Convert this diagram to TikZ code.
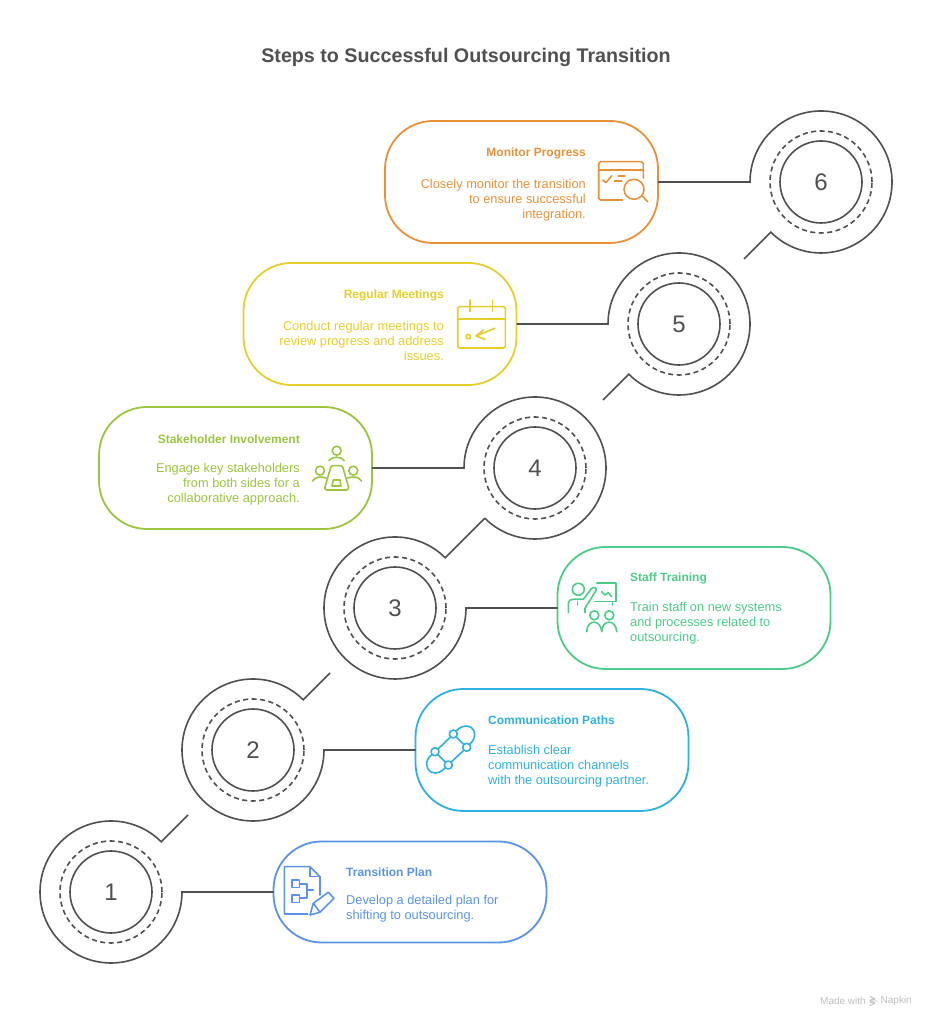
\documentclass[tikz,border=0pt]{standalone}
\usepackage{fontspec}
\setmainfont{Liberation Sans}
\definecolor{inkgrey}{HTML}{505050}
\definecolor{planblue}{HTML}{5B93EA}
\definecolor{pathblue}{HTML}{2EB0E3}
\definecolor{trainteal}{HTML}{4CCB8B}
\definecolor{stakegreen}{HTML}{9BC53F}
\definecolor{meetyellow}{HTML}{E6CF2A}
\definecolor{monorange}{HTML}{E8913A}
\tikzset{
  core/.style={draw=inkgrey, line width=1.6pt, circle, minimum size=82pt, inner sep=0pt, outer sep=0pt, text=inkgrey, font=\fontsize{24}{28}\selectfont},
  dashring/.style={draw=inkgrey, line width=1.6pt, circle, dashed, dash pattern=on 5pt off 3.5pt, minimum size=102pt, inner sep=0pt, outer sep=0pt},
  outerring/.style={circle, minimum size=142pt, inner sep=0pt, outer sep=0pt},
  link/.style={draw=inkgrey, line width=1.6pt, line join=miter},
  stepbox/.style={draw=#1, line width=1.8pt, rounded corners=48pt, minimum width=273pt, minimum height=122pt, inner sep=0pt, outer sep=0pt},
  boxtitle/.style={text=#1, inner sep=0pt, font=\fontsize{12}{15}\selectfont\bfseries},
  boxbody/.style={text=#1, inner sep=0pt, font=\fontsize{12.8}{15}\selectfont},
  icon/.style={draw=#1, line width=1.6pt, line join=round, line cap=round},
}
\begin{document}
\begin{tikzpicture}[x=1pt, y=1pt]
\useasboundingbox (0,0) rectangle (932,1024);
\node [text=inkgrey, inner sep=0pt, font=\fontsize{19.7}{24}\selectfont\bfseries] (title) at (466, 967) {Steps to Successful Outsourcing Transition};
\node [stepbox=planblue, minimum height=101pt] (box1) at (410, 132) {};
\node [stepbox=pathblue] (box2) at (552, 274) {};
\node [stepbox=trainteal] (box3) at (694, 416) {};
\node [stepbox=stakegreen] (box4) at (235.5, 556) {};
\node [stepbox=meetyellow] (box5) at (380, 700) {};
\node [stepbox=monorange] (box6) at (521.5, 842) {};
\node [core] (core1) at (111, 132) {1};
\node [core] (core2) at (253, 274) {2};
\node [core] (core3) at (395, 416) {3};
\node [core] (core4) at (535, 556) {4};
\node [core] (core5) at (679, 700) {5};
\node [core] (core6) at (821, 842) {6};
\node [dashring] (dash1) at (core1) {};
\node [dashring] (dash2) at (core2) {};
\node [dashring] (dash3) at (core3) {};
\node [dashring] (dash4) at (core4) {};
\node [dashring] (dash5) at (core5) {};
\node [dashring] (dash6) at (core6) {};
\node [outerring] (ring1) at (core1) {};
\node [outerring] (ring2) at (core2) {};
\node [outerring] (ring3) at (core3) {};
\node [outerring] (ring4) at (core4) {};
\node [outerring] (ring5) at (core5) {};
\node [outerring] (ring6) at (core6) {};
\coordinate (tail1) at (188, 209);
\coordinate (tail2) at (330, 351);
\coordinate (tail5) at (603, 624);
\coordinate (tail6) at (744, 765);
\draw [link] (box1.west) -- (ring1.east) arc [start angle=0, end angle=-315, radius=71pt] -- (tail1);
\draw [link] (box2.west) -- (ring2.east) arc [start angle=0, end angle=-315, radius=71pt] -- (tail2);
\draw [link] (box3.west) -- (ring3.east) arc [start angle=0, end angle=-315, radius=71pt] -- (ring4.225);
\draw [link] (box4.east) -- (ring4.west) arc [start angle=180, end angle=-135, radius=71pt];
\draw [link] (box5.east) -- (ring5.west) arc [start angle=180, end angle=-135, radius=71pt] -- (tail5);
\draw [link] (box6.east) -- (ring6.west) arc [start angle=180, end angle=-135, radius=71pt] -- (tail6);
\node [boxtitle=planblue, anchor=west] (title1) at (346, 152) {Transition Plan};
\node [boxbody=planblue, anchor=west, align=left] (body1) at (346, 115.5) {Develop a detailed plan for\\shifting to outsourcing.};
\node [boxtitle=pathblue, anchor=west] (title2) at (488, 304) {Communication Paths};
\node [boxbody=pathblue, anchor=west, align=left] (body2) at (488, 258) {Establish clear\\communication channels\\with the outsourcing partner.};
\node [boxtitle=trainteal, anchor=west] (title3) at (630, 446) {Staff Training};
\node [boxbody=trainteal, anchor=west, align=left] (body3) at (630, 400.5) {Train staff on new systems\\and processes related to\\outsourcing.};
\node [boxtitle=stakegreen, anchor=east] (title4) at (300, 585) {Stakeholder Involvement};
\node [boxbody=stakegreen, anchor=east, align=right] (body4) at (300, 539.5) {Engage key stakeholders\\from both sides for a\\collaborative approach.};
\node [boxtitle=meetyellow, anchor=east] (title5) at (444, 729) {Regular Meetings};
\node [boxbody=meetyellow, anchor=east, align=right] (body5) at (444, 683) {Conduct regular meetings to\\review progress and address\\issues.};
\node [boxtitle=monorange, anchor=east] (title6) at (586, 871) {Monitor Progress};
\node [boxbody=monorange, anchor=east, align=right] (body6) at (586, 824) {Closely monitor the transition\\to ensure successful\\integration.};
\node [text=black!25, inner sep=0pt, anchor=west, font=\fontsize{10}{11}\selectfont] (made) at (820, 23) {Made with};
\node [text=black!25, inner sep=0pt, anchor=east, font=\fontsize{10}{11}\selectfont] (napkin) at (912, 23) {Napkin};
\begin{scope}[y=-1pt, yshift=1024pt]
\draw [icon=black!25, line width=0.9pt] (870, 996.5) -- (875, 999) -- (870, 1000) (870, 1001) -- (878, 1001) (870, 1002) -- (875, 1003) -- (870, 1005.5);
\draw [icon=planblue] (320, 895) -- (320, 876.7) -- (310, 866.7) -- (284.3, 866.7) -- (284.3, 914) -- (307.7, 914);
\draw [icon=planblue] (310, 866.7) -- (310, 876.7) -- (320, 876.7);
\draw [icon=planblue] (291.7, 880) rectangle (299.3, 887.7);
\draw [icon=planblue] (291.7, 895) rectangle (299.3, 902.7);
\draw [icon=planblue] (299.3, 884) -- (306.7, 884) -- (306.7, 898.3) -- (299.3, 898.3);
\draw [icon=planblue] (306.7, 890) -- (313.3, 890);
\draw [icon=planblue] (310, 915) -- (313.3, 903.3) -- (328.3, 892.3) -- (334, 898.3) -- (320, 912.3) -- cycle;
\draw [icon=planblue] (313.3, 903.3) -- (320, 912.3);
\draw [icon=pathblue] (453.3, 734) circle [radius=4];
\draw [icon=pathblue] (466.7, 747.3) circle [radius=4];
\draw [icon=pathblue] (435, 751.7) circle [radius=4];
\draw [icon=pathblue] (448.3, 765) circle [radius=4];
\draw [icon=pathblue] (450.5, 737) -- (438, 749) (463.7, 750.3) -- (451.3, 762) (456.2, 737) -- (463.8, 744.5) (437.8, 754.5) -- (445.5, 762.2);
\draw [icon=pathblue] (456.7, 730.5) .. controls (463, 724) and (472, 725) .. (474, 731) .. controls (476, 737) and (473, 741) .. (469.5, 744.5);
\draw [icon=pathblue] (432, 754.5) .. controls (425, 760) and (425, 768) .. (431, 772) .. controls (437, 775) and (442, 771) .. (445.3, 767.8);
\draw [icon=trainteal] (578.3, 589.3) circle [radius=6];
\draw [icon=trainteal] (568.3, 612.7) -- (568.3, 603.3) .. controls (568.3, 600.5) and (570.5, 599.3) .. (573.3, 599.3) -- (583.3, 599.3) -- (591.7, 588.3) .. controls (593.5, 586.5) and (597.5, 588) .. (596, 590.5) -- (585, 608.3) -- (585, 612.7);
\draw [icon=trainteal] (577.3, 601.7) -- (577.3, 605);
\draw [icon=trainteal] (596.7, 583.3) -- (616, 583.3) -- (616, 601.7) -- (595, 601.7);
\draw [icon=trainteal] (612.3, 601.7) -- (612.3, 605);
\draw [icon=trainteal] (601.7, 591.7) -- (605, 595) -- (608.3, 592.7) -- (611.7, 596.7);
\draw [icon=trainteal] (594.3, 615.3) circle [radius=4.5];
\draw [icon=trainteal] (609.3, 615.3) circle [radius=4.5];
\draw [icon=trainteal] (586.7, 631.7) .. controls (587, 619) and (601, 619) .. (601.7, 631.7) .. controls (602, 619) and (616, 619) .. (616.7, 631.7);
\draw [icon=stakegreen] (336.7, 450.7) circle [radius=4.5];
\draw [icon=stakegreen] (329, 460.7) .. controls (332, 456) and (341, 456) .. (344.3, 460.7);
\draw [icon=stakegreen] (333, 465.7) -- (340.5, 465.7) .. controls (342, 465.7) and (342.5, 466.5) .. (343, 468) -- (348.5, 487) .. controls (349, 489) and (348, 490) .. (346, 490) -- (327, 490) .. controls (325, 490) and (324.5, 489) .. (325, 487) -- (330.5, 468) .. controls (331, 466.5) and (331.5, 465.7) .. (333, 465.7);
\draw [icon=stakegreen] (333.3, 480) -- (340, 480) -- (341, 486) -- (332, 486) -- cycle;
\draw [icon=stakegreen] (320, 470.7) circle [radius=4.5];
\draw [icon=stakegreen] (312.5, 481) .. controls (315, 477) and (320, 476) .. (326, 478);
\draw [icon=stakegreen] (353.3, 470.7) circle [radius=4.5];
\draw [icon=stakegreen] (361.5, 481) .. controls (359, 477) and (354, 476) .. (347.5, 478);
\draw [icon=meetyellow, rounded corners=1.5pt] (457.7, 306.7) rectangle (505.3, 348);
\draw [icon=meetyellow] (457.7, 319) -- (505.3, 319);
\draw [icon=meetyellow] (470, 300) -- (470, 311.7) (492.3, 300) -- (492.3, 311.7);
\draw [icon=meetyellow] (468.3, 336.7) circle [radius=2.3];
\draw [icon=meetyellow] (495, 328.3) -- (476, 336) (483.3, 330) -- (476, 336) -- (485, 339.3);
\draw [icon=monorange] (622.5, 200) -- (600.5, 200) .. controls (599.3, 200) and (598.7, 199.4) .. (598.7, 198.2) -- (598.7, 163.5) .. controls (598.7, 162.3) and (599.3, 161.7) .. (600.5, 161.7) -- (641.5, 161.7) .. controls (642.7, 161.7) and (643.3, 162.3) .. (643.3, 163.5) -- (643.3, 178);
\draw [icon=monorange] (598.7, 170) -- (643.3, 170);
\draw [icon=monorange] (602.7, 180) -- (606, 182.7) -- (611.7, 175.7);
\draw [icon=monorange] (618.3, 176) -- (625, 176) (614.3, 181) -- (621.7, 181);
\draw [icon=monorange] (634, 189.3) circle [radius=10];
\draw [icon=monorange] (641.7, 195.5) -- (647.7, 201.7);
\end{scope}
\end{tikzpicture}
\end{document}
